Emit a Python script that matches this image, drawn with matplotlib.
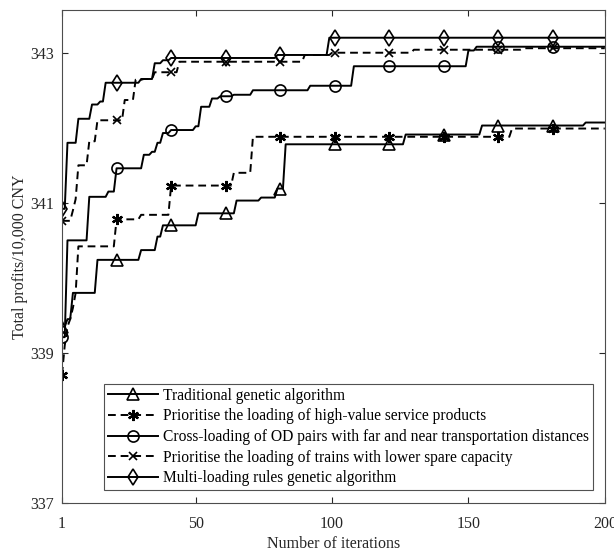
import numpy as np
import matplotlib
matplotlib.use("Agg")
from matplotlib import pyplot as plt

# step breakpoints: (iteration, total profit)
trad_it = [1, 3, 5, 14, 30, 36, 38, 51, 65, 74, 80, 83, 127, 155, 193]
trad_val = [339.35, 339.45, 339.80, 340.24, 340.37, 340.55, 340.70, 340.86,
            341.03, 341.07, 341.19, 341.78, 341.91, 342.03, 342.07]

high_it = [1, 2, 3, 4, 5, 6, 7, 21, 30, 41, 64, 71, 166]
high_val = [338.71, 339.10, 339.35, 339.45, 339.60, 339.80, 340.42, 340.78,
            340.84, 341.23, 341.40, 341.88, 341.99]

cross_it = [1, 3, 11, 18, 21, 31, 34, 36, 38, 41, 50, 52, 56, 59, 64, 71, 92,
            108, 150, 153]
cross_val = [339.21, 340.50, 341.08, 341.15, 341.46, 341.64, 341.68, 341.80,
             341.93, 341.97, 342.02, 342.28, 342.39, 342.42, 342.44, 342.50,
             342.56, 342.82, 343.03, 343.08]

spare_it = [1, 5, 6, 7, 11, 14, 24, 28, 31, 35, 44, 90, 100, 130, 170]
spare_val = [340.76, 340.90, 341.05, 341.50, 341.82, 342.10, 342.37, 342.64,
             342.65, 342.74, 342.88, 342.97, 343.00, 343.04, 343.06]

multi_it = [1, 3, 7, 12, 15, 17, 30, 35, 38, 41, 80, 99]
multi_val = [340.92, 341.80, 342.12, 342.31, 342.35, 342.60, 342.65, 342.86,
             342.90, 342.93, 342.97, 343.20]

labels = ["Traditional genetic algorithm",
          "Prioritise the loading of high-value service products",
          "Cross-loading of OD pairs with far and near transportation distances",
          "Prioritise the loading of trains with lower spare capacity",
          "Multi-loading rules genetic algorithm"]

iterations = np.arange(1, 201)


def hold(its, vals):
    """best-so-far value at every iteration (value is kept until the next improvement)"""
    idx = np.searchsorted(its, iterations, side="right") - 1
    return np.asarray(vals)[idx]


plt.rcParams["font.family"] = ["Liberation Serif", "DejaVu Serif"]
plt.rcParams["font.size"] = 11.5

fig = plt.figure(figsize=(6.14, 5.53), dpi=100)
ax = fig.add_axes([0.101, 0.0904, 0.884, 0.8916])

# (breakpoints, values, linestyle, marker, marker size)
series = [(trad_it, trad_val, "-", "^", 8),
          (high_it, high_val, "--", (6, 2, 0), 8),
          (cross_it, cross_val, "-", "o", 8),
          (spare_it, spare_val, "--", "x", 6),
          (multi_it, multi_val, "-", "d", 8)]

for (its, vals, ls, mk, ms), lab in zip(series, labels):
    ax.plot(iterations, hold(its, vals), color="black", linestyle=ls, linewidth=1.4,
            marker=mk, markevery=20, markersize=ms,
            markerfacecolor="none", markeredgecolor="black",
            markeredgewidth=1.6 if mk == (6, 2, 0) else 1.2,
            dashes=(4, 2.5) if ls == "--" else (None, None), label=lab)

ax.set_xlim(1, 200)
ax.set_ylim(337, 343.57)
ax.set_xticks([1, 50, 100, 150, 200])
ax.set_yticks([337, 339, 341, 343])
ax.tick_params(direction="in", top=True, right=True, length=4, colors="#262626",
               labelcolor="#262626", labelsize=11.5)
ax.tick_params(axis="x", pad=9)
ax.tick_params(axis="y", pad=5.5)
for sp in ax.spines.values():
    sp.set_color("#4d4d4d")
    sp.set_linewidth(0.8)

ax.set_xlabel("Number of iterations", labelpad=3, color="#262626")
ax.set_ylabel("Total profits/10,000 CNY", labelpad=2, color="#262626")

leg = ax.legend(loc="lower right", bbox_to_anchor=(0.978, 0.026), borderaxespad=0,
                fancybox=False, edgecolor="#262626", handlelength=3.2,
                handletextpad=0.32, labelspacing=0.3, borderpad=0.25, fontsize=11.2)
leg.get_frame().set_linewidth(0.8)

fig.savefig("out.png", dpi=100)
